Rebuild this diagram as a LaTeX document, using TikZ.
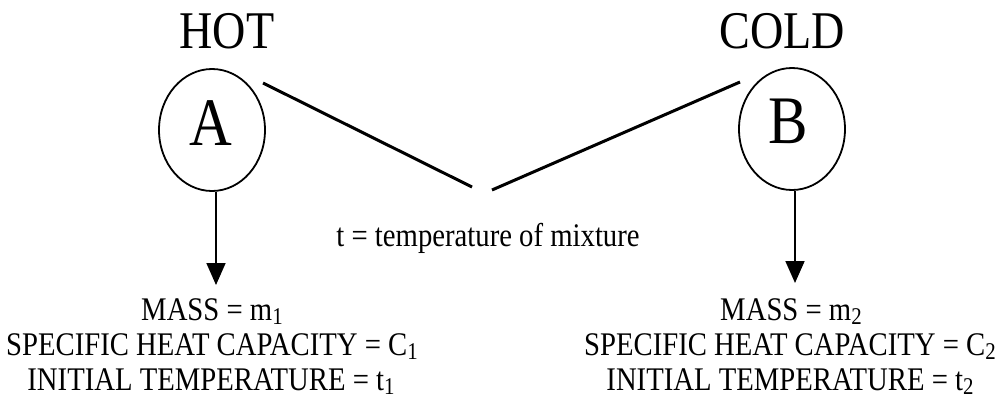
\documentclass[tikz,border=0pt]{standalone}
\usepackage{fontspec}
\setmainfont{Liberation Serif}
\usetikzlibrary{arrows.meta,shapes.geometric}
\newcommand\lowsub[1]{\raisebox{-4.5pt}{\fontsize{24}{24}\selectfont #1}}
\newcommand\sq[1]{\scalebox{0.87}[1]{#1}}
\begin{document}
\begin{tikzpicture}[x=1pt,y=-1pt,
  bigtitle/.style={anchor=base,inner sep=0pt,font=\fontsize{53}{60}\selectfont},
  letter/.style={anchor=base,inner sep=0pt,font=\fontsize{68}{72}\selectfont},
  body/.style={anchor=base,inner sep=0pt,font=\fontsize{33}{36}\selectfont},
  bubble/.style={draw,line width=1.8pt,ellipse,minimum width=106pt,minimum height=122pt,inner sep=0pt},
  mixline/.style={line width=3pt},
  downarrow/.style={line width=1.8pt,-{Triangle[width=19pt,length=22pt]}}]
\useasboundingbox (0,0) rectangle (997,410);
\node[bigtitle] (hot) at (227,48) {\sq{HOT}};
\node[bigtitle] (cold) at (782,48) {\sq{COLD}};
\node[bubble] (A) at (212,130) {};
\node[bubble] (B) at (792,129) {};
\node[letter] (la) at (211,145) {\sq{A}};
\node[letter] (lb) at (788,143) {\sq{B}};
\coordinate (a1) at (263,83);
\coordinate (a2) at (472,187);
\coordinate (b1) at (740,82);
\coordinate (b2) at (492,190);
\draw[mixline] (a1) -- (a2);
\draw[mixline] (b1) -- (b2);
\node[body] (mix) at (488,246) {\sq{t = temperature of mixture}};
\coordinate (tipA) at (216,285);
\coordinate (tipB) at (795,283);
\draw[downarrow] (A.south -| tipA) -- (tipA);
\draw[downarrow] (B.south -| tipB) -- (tipB);
\node[body] (massA) at (212,320) {\sq{MASS = m\lowsub{1}}};
\node[body] (heatA) at (212,355) {\sq{SPECIFIC HEAT CAPACITY = C\lowsub{1}}};
\node[body] (tempA) at (211,390) {\sq{INITIAL TEMPERATURE = t\lowsub{1}}};
\node[body] (massB) at (791,320) {\sq{MASS = m\lowsub{2}}};
\node[body] (heatB) at (790,355) {\sq{SPECIFIC HEAT CAPACITY = C\lowsub{2}}};
\node[body] (tempB) at (790,390) {\sq{INITIAL TEMPERATURE = t\lowsub{2}}};
\end{tikzpicture}
\end{document}
